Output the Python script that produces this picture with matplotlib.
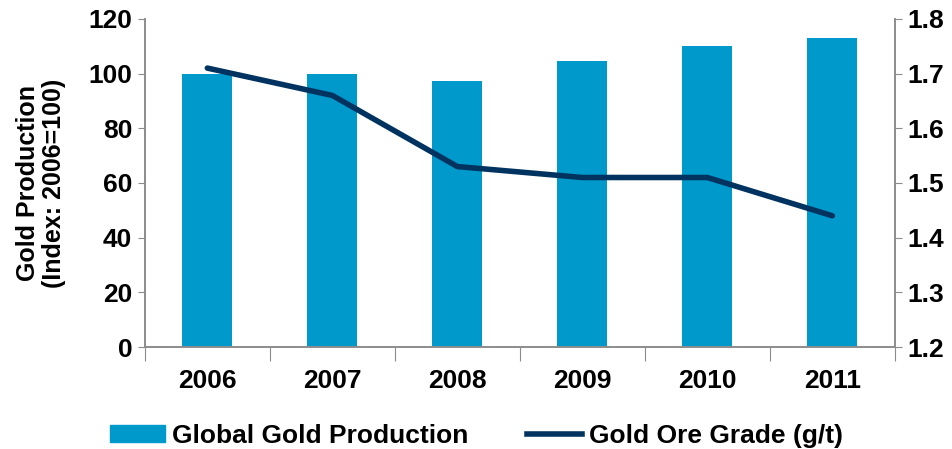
import numpy as np
import matplotlib.pyplot as plt
from matplotlib.lines import Line2D
from matplotlib.patches import Patch

plt.rcParams['font.family'] = ['Liberation Sans', 'DejaVu Sans']
plt.rcParams['font.weight'] = 'bold'

years = ['2006', '2007', '2008', '2009', '2010', '2011']
production = [100, 100, 97.3, 104.6, 110, 112.9]
ore_grade = [1.71, 1.66, 1.53, 1.51, 1.51, 1.44]

BAR = '#0099cc'
LINE = '#00335f'
GREY = '#8c8c8c'

fig = plt.figure(figsize=(9.53, 4.49), dpi=100)
ax = fig.add_axes([0.152, 0.227, 0.787, 0.731])
x = np.arange(len(years))
ax.bar(x, production, 0.4, color=BAR, zorder=2)
ax.set_xlim(-0.5, len(years) - 0.5)
ax.set_ylim(0, 120)
ax.set_yticks(range(0, 121, 20))
ax.set_ylabel('Gold Production\n(Index: 2006=100)', fontsize=18, fontweight='bold',
              labelpad=16, linespacing=1.1)

# category boundaries as ticks, labels in the middle
ax.set_xticks(np.arange(-0.5, len(years)), minor=False)
ax.set_xticklabels([])
ax.set_xticks(x, minor=True)
ax.set_xticklabels(years, minor=True)
ax.tick_params(axis='x', which='major', length=10, color=GREY, direction='out')
ax.tick_params(axis='x', which='minor', length=0, pad=16, labelsize=19)
ax.tick_params(axis='y', length=5, color=GREY, labelsize=19, pad=4)

ax2 = ax.twinx()
ax2.plot(x, ore_grade, color=LINE, lw=4, solid_capstyle='round', zorder=3)
ax2.set_ylim(1.2, 1.8)
ax2.set_yticks(np.arange(1.2, 1.81, 0.1))
ax2.set_yticklabels(['%.1f' % v for v in np.arange(1.2, 1.81, 0.1)])
ax2.tick_params(axis='y', length=5, color=GREY, labelsize=19, pad=4)

for a in (ax, ax2):
    a.spines['top'].set_visible(False)
    for s in ('left', 'right', 'bottom'):
        a.spines[s].set_color(GREY)
        a.spines[s].set_linewidth(1.2)

handles = [Patch(color=BAR), Line2D([], [], color=LINE, lw=4)]
fig.legend(handles, ['Global Gold Production', 'Gold Ore Grade (g/t)'],
           loc='center', bbox_to_anchor=(0.5, 0.03), ncol=2, frameon=False,
           fontsize=19, handlelength=2.1, handleheight=0.6, columnspacing=2.2,
           handletextpad=0.27, borderpad=0, borderaxespad=0)

fig.savefig('out.png', dpi=100)
